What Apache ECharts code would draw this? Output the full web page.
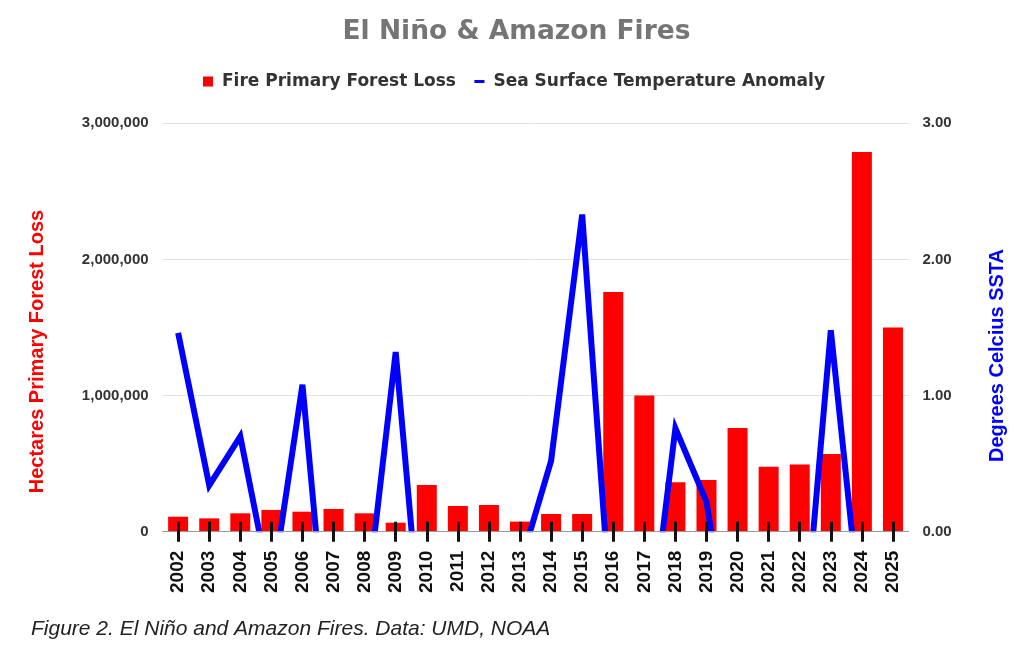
<!DOCTYPE html>
<html>
<head>
<meta charset="utf-8">
<title>El Niño & Amazon Fires</title>
<script src="https://cdn.jsdelivr.net/npm/echarts@6/dist/echarts.min.js"></script>
<style>
html, body { margin: 0; padding: 0; background: #fff; }
#main { width: 1024px; height: 665px; }
</style>
</head>
<body>
<div id="main"></div>
<script>
// data
var years = ['2002', '2003', '2004', '2005', '2006', '2007', '2008', '2009', '2010', '2011', '2012', '2013',
	'2014', '2015', '2016', '2017', '2018', '2019', '2020', '2021', '2022', '2023', '2024', '2025'];
// hectares of primary forest lost to fire
var fireLoss = [110000, 98000, 135000, 160000, 147000, 167000, 135000, 66000, 343000, 189000, 196000, 74000,
	130000, 130000, 1760000, 1000000, 363000, 380000, 762000, 478000, 493000, 571000, 2790000, 1500000];
// sea surface temperature anomaly, deg C (negative years fall below the axis and get clipped)
var ssta = [1.46, 0.34, 0.70, -0.45, 1.08, -1.4, -0.65, 1.32, -1.25, -0.9, -0.5, -0.25,
	0.52, 2.33, -0.85, -1.1, 0.76, 0.22, -1.2, -1.0, -1.15, 1.48, -0.7, -0.5];
// axis ranges
var lossAxis = { min: 0, max: 3000000, step: 1000000 };
var sstaAxis = { min: 0, max: 3, step: 1 };

var FONT = 'Liberation Sans, Arial, sans-serif';
var WIDE = 'DejaVu Sans, sans-serif';

var myChart = echarts.init(document.getElementById('main'));

option = {
	animation: false,
	backgroundColor: '#fff',
	title: {
		text: 'El Niño & Amazon Fires',
		left: 516.5,
		textAlign: 'center',
		top: 19,
		padding: 0,
		textStyle: { fontFamily: WIDE, fontWeight: 'bold', fontSize: 26.5, color: '#757575' }
	},
	legend: {
		left: 203,
		top: 73,
		padding: 0,
		itemWidth: 10,
		itemHeight: 10,
		itemGap: 17,
		textStyle: { fontFamily: WIDE, fontWeight: 'bold', fontSize: 17, color: '#333', padding: [0, 0, 0, 4] },
		data: [
			{ name: 'Fire Primary Forest Loss', icon: 'rect' },
			{ name: 'Sea Surface Temperature Anomaly', lineStyle: { width: 3 }, itemStyle: { opacity: 0 } }
		]
	},
	grid: { left: 162.6, right: 115.5, top: 123.3, bottom: 133.3 },
	xAxis: [{
		type: 'category',
		data: years,
		position: 'bottom',
		z: 10,
		axisLine: { show: true, lineStyle: { color: '#999', width: 1 } },
		axisTick: { show: true, interval: 0, alignWithLabel: true, length: 10, lineStyle: { color: '#111', width: 3 } },
		axisLabel: { interval: 0, rotate: 90, margin: 19, color: '#111', fontFamily: FONT, fontWeight: 'bold', fontSize: 19 },
		splitLine: { show: false }
	}, {
		// second copy only for the half of each tick that sits above the axis
		type: 'category',
		data: years,
		position: 'bottom',
		z: 10,
		axisLine: { show: false },
		axisTick: { show: true, interval: 0, inside: true, alignWithLabel: true, length: 10, lineStyle: { color: '#111', width: 3 } },
		axisLabel: { show: false },
		splitLine: { show: false }
	}],
	yAxis: [{
		type: 'value',
		min: lossAxis.min,
		max: lossAxis.max,
		interval: lossAxis.step,
		name: 'Hectares Primary Forest Loss',
		nameLocation: 'middle',
		nameGap: 115,
		nameTextStyle: { color: '#ff0000', fontFamily: FONT, fontWeight: 'bold', fontSize: 20, padding: [0, 48, 0, 0] },
		axisLine: { show: false },
		axisTick: { show: false },
		axisLabel: {
			margin: 14, color: '#333', fontFamily: FONT, fontWeight: 'bold', fontSize: 15,
			formatter: function (v) { return v.toLocaleString('en-US'); }
		},
		splitLine: { show: true, lineStyle: { color: '#e3e3e3', width: 1 } }
	}, {
		type: 'value',
		position: 'right',
		min: sstaAxis.min,
		max: sstaAxis.max,
		interval: sstaAxis.step,
		name: 'Degrees Celcius SSTA',
		nameLocation: 'middle',
		nameGap: 79,
		nameTextStyle: { color: '#0000ff', fontFamily: FONT, fontWeight: 'bold', fontSize: 20, padding: [0, 56, 0, 0] },
		axisLine: { show: false },
		axisTick: { show: false },
		axisLabel: {
			margin: 14, color: '#333', fontFamily: FONT, fontWeight: 'bold', fontSize: 15,
			formatter: function (v) { return v.toFixed(2); }
		},
		splitLine: { show: false }
	}],
	series: [{
		name: 'Fire Primary Forest Loss',
		type: 'bar',
		data: fireLoss,
		barWidth: 20,
		itemStyle: { color: '#ff0000' }
	}, {
		name: 'Sea Surface Temperature Anomaly',
		type: 'line',
		yAxisIndex: 1,
		data: ssta,
		symbol: 'none',
		clip: true,
		itemStyle: { color: '#0000ff' },
		lineStyle: { color: '#0000ff', width: 6, join: 'miter', miterLimit: 4, cap: 'butt' }
	}]
};
myChart.setOption(option);

// the line clip box is a few px deeper than the axis; paint that strip white (under the axis)
var y0 = myChart.convertToPixel({ yAxisIndex: 0 }, 0);
var xa = myChart.convertToPixel({ xAxisIndex: 0 }, 0) - 20;
var xb = myChart.convertToPixel({ xAxisIndex: 0 }, years.length - 1) + 20;
myChart.setOption({
	graphic: [{
		type: 'rect',
		z: 5,
		shape: { x: xa, y: y0 + 0.5, width: xb - xa, height: 5 },
		style: { fill: '#fff' }
	}, {
		type: 'text',
		left: 31,
		top: 619,
		style: {
			text: 'Figure 2. El Niño and Amazon Fires. Data: UMD, NOAA',
			font: 'italic 21px "Liberation Sans", Arial, sans-serif',
			fill: '#222'
		}
	}]
});
</script>
</body>
</html>
